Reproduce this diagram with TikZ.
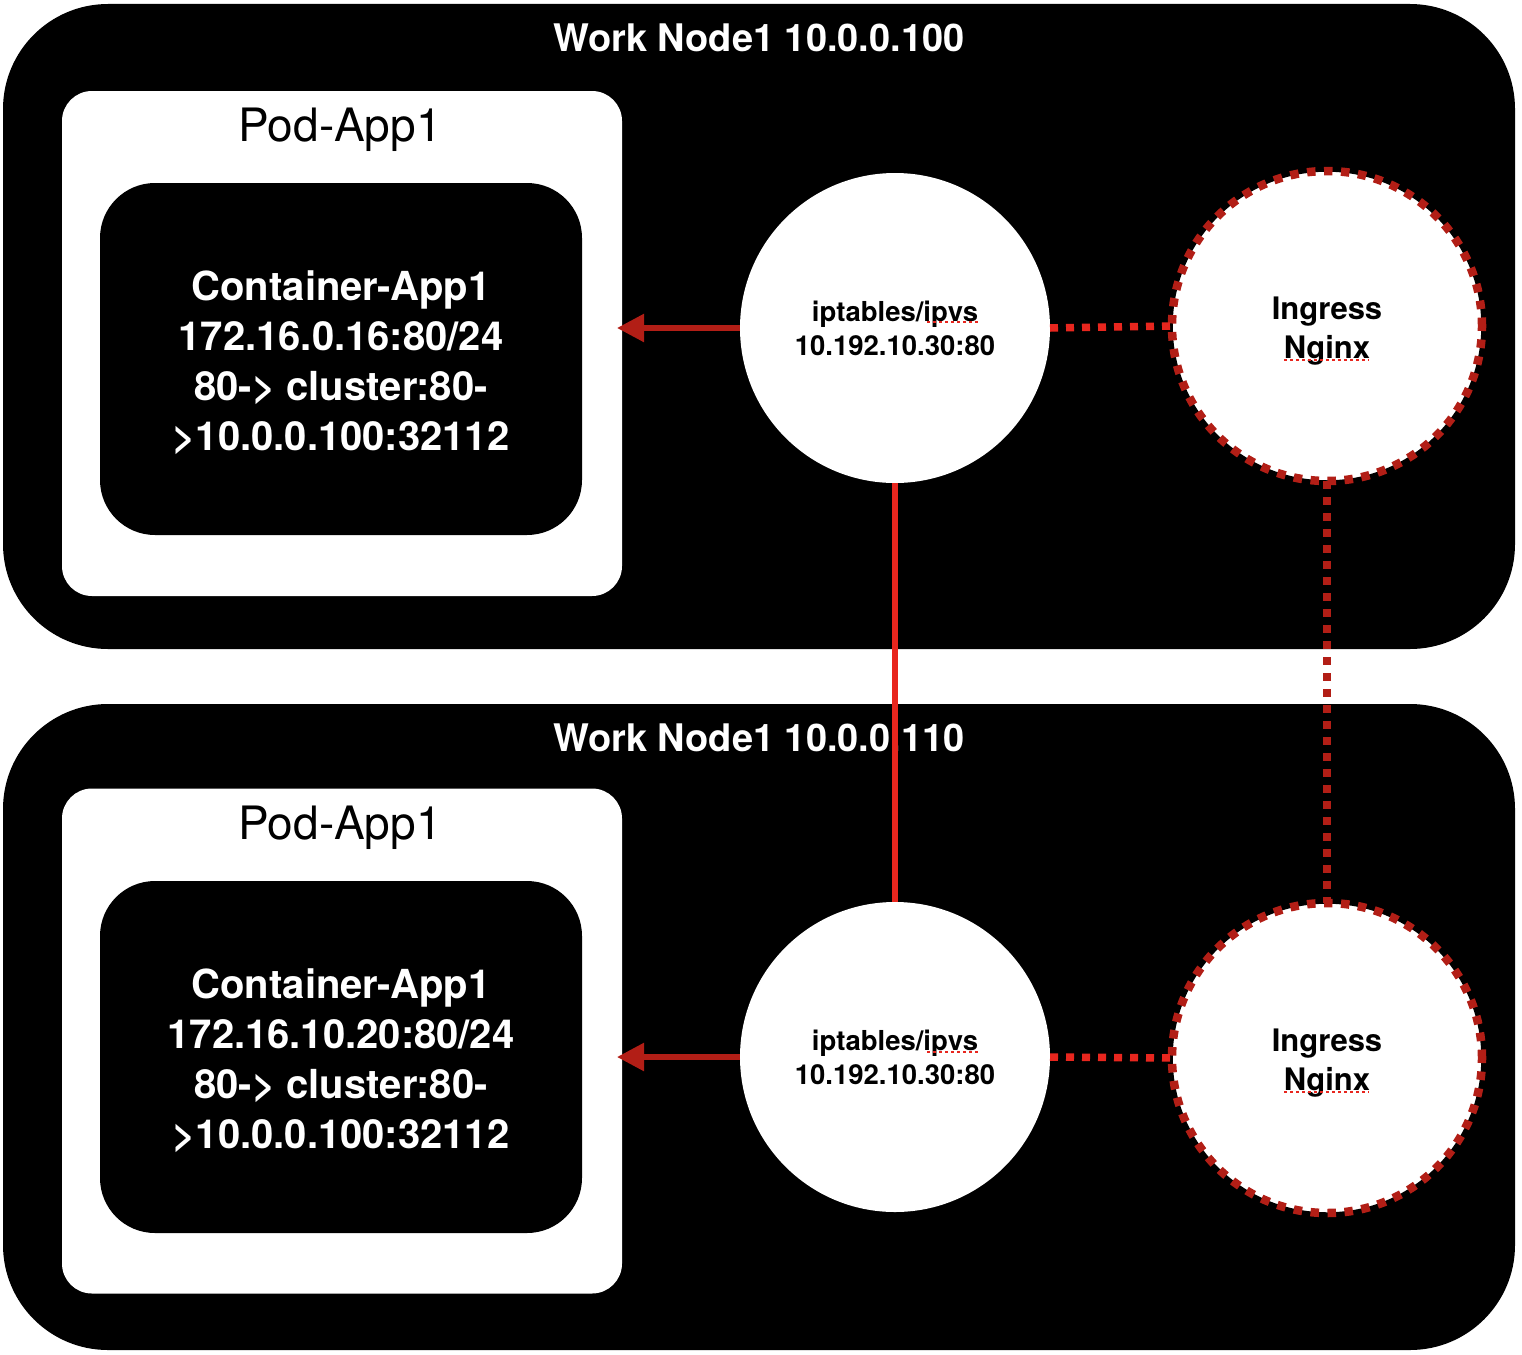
\documentclass[tikz,border=0pt]{standalone}
\usepackage{fontspec}
\setmainfont{TeX Gyre Heros}
\usetikzlibrary{arrows.meta}
\definecolor{brightred}{RGB}{232,38,30}
\definecolor{darkred}{RGB}{178,30,22}
\tikzset{
  nodebox/.style={rectangle, fill=black, draw=none, inner sep=0pt, outer sep=0pt,
    minimum width=1512pt, rounded corners=105pt},
  podbox/.style={rectangle, fill=white, draw=none, inner sep=0pt, outer sep=0pt,
    minimum width=560pt, minimum height=505pt, rounded corners=30pt},
  contbox/.style={rectangle, fill=black, draw=none, inner sep=0pt, outer sep=0pt,
    minimum width=482pt, minimum height=352pt, rounded corners=55pt},
  titletext/.style={text=white, font=\fontsize{38}{44}\selectfont\bfseries},
  podtext/.style={text=black, font=\fontsize{46}{50}\selectfont},
  conttext/.style={text=white, align=center, font=\fontsize{40}{50}\selectfont\bfseries},
  iptcirc/.style={circle, fill=white, draw=none, minimum size=310pt, inner sep=0pt, outer sep=0pt,
    align=center, font=\fontsize{27.5}{34}\selectfont\bfseries},
  ingcirc/.style={circle, fill=white, draw=black, line width=1.5pt, minimum size=310pt, inner sep=0pt, outer sep=0pt},
  ingtext/.style={align=center, font=\fontsize{31}{38.5}\selectfont\bfseries},
  ingdash/.style={draw=darkred, line width=8.5pt, dash pattern=on 8.5pt off 8.5pt},
  pointer/.style={draw=darkred, line width=5.5pt, -{Triangle[length=27pt,width=27pt]}},
  hdots/.style={draw=brightred, line width=7.5pt, dash pattern=on 8pt off 8pt},
  vdots/.style={draw=darkred, line width=7.5pt, dash pattern=on 8pt off 8pt},
  solidlink/.style={draw=brightred, line width=5.5pt},
  spell/.style={draw=brightred, line width=2.5pt, dash pattern=on 3pt off 3pt}
}
\begin{document}
\begin{tikzpicture}[x=1pt,y=-1pt]
\useasboundingbox (0,0) rectangle (1522,1354);
% outer work nodes
\node[nodebox, minimum height=645pt] (wn1) at (759,326.5) {};
\node[nodebox, minimum height=646pt] (wn2) at (759,1027) {};
\node[titletext] (t1) at (759,38) {Work Node1 10.0.0.100};
\node[titletext] (t2) at (759,738) {Work Node1 10.0.0.110};
% pods
\node[podbox] (pod1) at (342,343.5) {};
\node[podbox] (pod2) at (342,1041) {};
\node[podtext] (pt1) at (340,130) {Pod-App1};
\node[podtext] (pt2) at (340,828) {Pod-App1};
% containers
\node[contbox] (c1) at (341,359) {};
\node[contbox] (c2) at (341,1057) {};
\node[conttext] (ct1) at (341,363) {Container-App1\\172.16.0.16:80/24\\80-> cluster:80-\\>10.0.0.100:32112};
\node[conttext] (ct2) at (341,1061) {Container-App1\\172.16.10.20:80/24\\80-> cluster:80-\\>10.0.0.100:32112};
% iptables circles
\node[iptcirc] (ipt1) at (895,328) {iptables/ipvs\\10.192.10.30:80};
\node[iptcirc] (ipt2) at (895,1057) {iptables/ipvs\\10.192.10.30:80};
% ingress circles
\node[ingcirc] (ing1) at (1327,326) {};
\node[ingcirc] (ing2) at (1327,1058) {};
\draw[ingdash] (ing1.center) circle[radius=155pt];
\draw[ingdash] (ing2.center) circle[radius=155pt];
\node[ingtext] (it1) at ([yshift=-5pt]ing1.center) {Ingress\\Nginx};
\node[ingtext] (it2) at ([yshift=-5pt]ing2.center) {Ingress\\Nginx};
% spell-check underlines
\draw[spell] (927,322) -- (979,322);
\draw[spell] (927,1052) -- (979,1052);
\draw[spell] (1284,360) -- (1369,360);
\draw[spell] (1284,1092) -- (1369,1092);
% connectors
\draw[pointer] (ipt1.west) -- ([xshift=-5pt]ipt1.west -| pod1.east);
\draw[pointer] (ipt2.west) -- ([xshift=-5pt]ipt2.west -| pod2.east);
\draw[hdots] (ipt1.east) -- (ing1.west);
\draw[hdots] (ipt2.east) -- (ing2.west);
\draw[solidlink] (ipt1.south) -- (ipt2.north);
\draw[vdots] (ing1.south) -- (ing2.north);
\end{tikzpicture}
\end{document}
